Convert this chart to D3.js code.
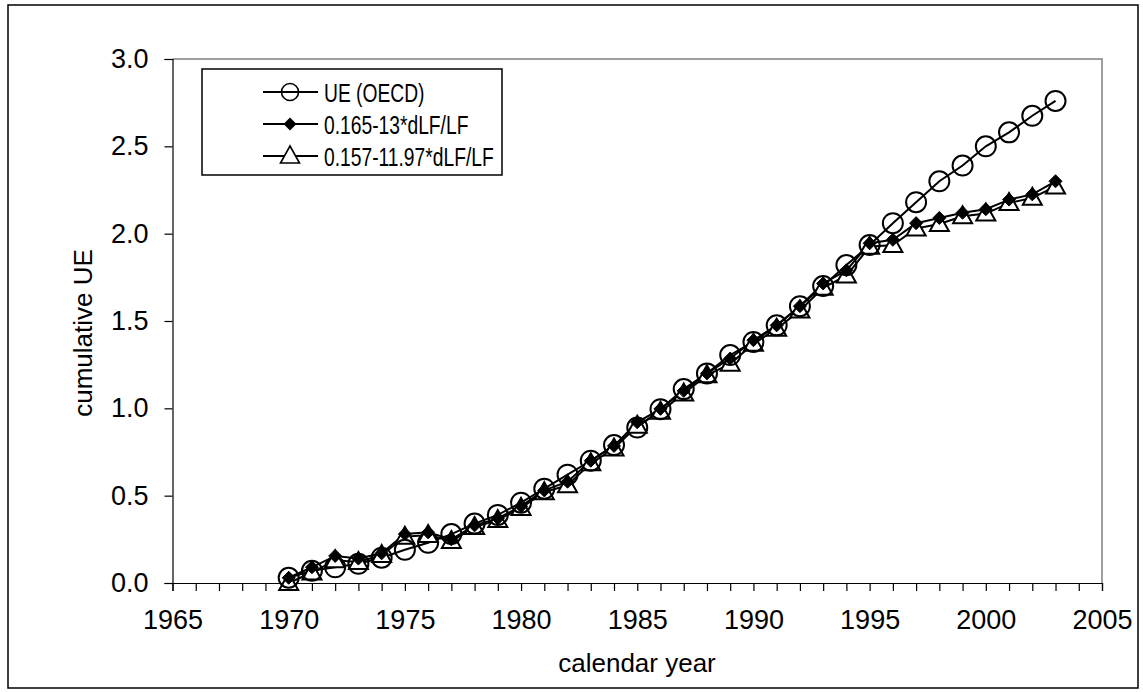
<!DOCTYPE html>
<html>
<head>
<meta charset="utf-8">
<script src="https://cdn.jsdelivr.net/npm/d3@7"></script>
<style>
  html, body { margin: 0; padding: 0; background: #fff; }
  svg text { font-family: "Liberation Sans", Arial, sans-serif; fill: #000; }
</style>
</head>
<body>
<svg id="chart" width="1143" height="692"></svg>
<script>
const years = d3.range(1970, 2004);
const ueOECD = [0.03, 0.07, 0.09, 0.11, 0.145, 0.19, 0.23, 0.28, 0.34, 0.39,
  0.46, 0.54, 0.62, 0.70, 0.79, 0.89, 0.995, 1.11, 1.20, 1.305,
  1.38, 1.475, 1.585, 1.70, 1.82, 1.935, 2.06, 2.18, 2.30, 2.39,
  2.50, 2.58, 2.675, 2.76];
const model13 = [0.03, 0.09, 0.155, 0.14, 0.17, 0.28, 0.29, 0.25, 0.33, 0.37,
  0.44, 0.53, 0.58, 0.70, 0.785, 0.92, 0.997, 1.10, 1.20, 1.285,
  1.39, 1.475, 1.585, 1.715, 1.79, 1.945, 1.965, 2.06, 2.09, 2.12,
  2.14, 2.195, 2.225, 2.30];
const model1197 = [0.0, 0.06, 0.13, 0.12, 0.16, 0.265, 0.275, 0.24, 0.32, 0.36,
  0.43, 0.52, 0.56, 0.685, 0.77, 0.90, 0.98, 1.085, 1.19, 1.255,
  1.37, 1.455, 1.56, 1.69, 1.76, 1.925, 1.935, 2.03, 2.055, 2.10,
  2.115, 2.175, 2.205, 2.27];
const seriesNames = ["UE (OECD)", "0.165-13*dLF/LF", "0.157-11.97*dLF/LF"];
const xTickLabels = [1965, 1970, 1975, 1980, 1985, 1990, 1995, 2000, 2005];
const yTickLabels = [0, 0.5, 1.0, 1.5, 2.0, 2.5, 3.0];

const FS = 27;
const svg = d3.select("#chart");
const pLeft = 172.5, pRight = 1102, pTop = 59, pBottom = 583;
const x = d3.scaleLinear().domain([1965, 2005]).range([pLeft, pRight]);
const y = d3.scaleLinear().domain([0, 3]).range([pBottom, pTop]);

// outer border
svg.append("rect").attr("x", 8).attr("y", 5).attr("width", 1130).attr("height", 683)
  .attr("fill", "#fff").attr("stroke", "#000").attr("stroke-width", 1.5);

// plot area border (gray top/right)
svg.append("path")
  .attr("d", `M${pLeft},${pTop}H${pRight}V${pBottom}`)
  .attr("fill", "none").attr("stroke", "#808080").attr("stroke-width", 1.5);

// y axis
const yAxis = d3.axisLeft(y).tickValues(yTickLabels).tickFormat(d3.format(".1f"))
  .tickSize(8).tickPadding(16);
const gy = svg.append("g").attr("transform", `translate(${pLeft},0)`).call(yAxis);
gy.select(".domain").attr("stroke", "#000").attr("stroke-width", 1.2);
gy.selectAll(".tick line").attr("stroke", "#000").attr("stroke-width", 1.2);
gy.selectAll("text").attr("font-size", FS).attr("fill", "#000")
  .style("font-family", "Liberation Sans, Arial, sans-serif");

// x axis: ticks every year, labels every 5
const xAxis = d3.axisBottom(x).tickValues(d3.range(1965, 2006))
  .tickFormat(d => xTickLabels.includes(d) ? String(d) : "")
  .tickSize(8).tickPadding(19);
const gx = svg.append("g").attr("transform", `translate(0,${pBottom})`).call(xAxis);
gx.select(".domain").attr("stroke", "#000").attr("stroke-width", 1.2);
gx.selectAll(".tick line").attr("stroke", "#000").attr("stroke-width", 1.2);
gx.selectAll("text").attr("font-size", FS).attr("fill", "#000")
  .style("font-family", "Liberation Sans, Arial, sans-serif");

// axis titles
svg.append("text").attr("x", 637).attr("y", 672).attr("text-anchor", "middle")
  .attr("font-size", 26).text("calendar year");
svg.append("text").attr("transform", "translate(92,333) rotate(-90)")
  .attr("text-anchor", "middle").attr("font-size", 26).text("cumulative UE");

// lines
const series = [ueOECD, model13, model1197];
const line = d3.line().x((d, i) => x(years[i])).y(d => y(d));
series.forEach(s => {
  svg.append("path").datum(s).attr("d", line)
    .attr("fill", "none").attr("stroke", "#000").attr("stroke-width", 2);
});

// marker shapes
const triPath = (cx, cy) => `M${cx},${cy - 10}L${cx + 9.5},${cy + 7}L${cx - 9.5},${cy + 7}Z`;
const diaPath = (cx, cy) => `M${cx},${cy - 6.5}L${cx + 6.5},${cy}L${cx},${cy + 6.5}L${cx - 6.5},${cy}Z`;

svg.append("g").selectAll("path").data(model1197).join("path")
  .attr("d", (d, i) => triPath(x(years[i]), y(d)))
  .attr("fill", "#fff").attr("stroke", "#000").attr("stroke-width", 2);
svg.append("g").selectAll("circle").data(ueOECD).join("circle")
  .attr("cx", (d, i) => x(years[i])).attr("cy", d => y(d)).attr("r", 10)
  .attr("fill", "none").attr("stroke", "#000").attr("stroke-width", 2);
svg.append("g").selectAll("path").data(model13).join("path")
  .attr("d", (d, i) => diaPath(x(years[i]), y(d)))
  .attr("fill", "#000").attr("stroke", "#000").attr("stroke-width", 1);

// legend
const lg = svg.append("g");
lg.append("rect").attr("x", 202).attr("y", 69).attr("width", 300).attr("height", 106)
  .attr("fill", "#fff").attr("stroke", "#000").attr("stroke-width", 1.5);
const rows = [92, 124, 156];
seriesNames.forEach((name, i) => {
  const ry = rows[i];
  lg.append("line").attr("x1", 263).attr("x2", 318).attr("y1", ry).attr("y2", ry)
    .attr("stroke", "#000").attr("stroke-width", 2);
  if (i === 0) {
    lg.append("circle").attr("cx", 290).attr("cy", ry).attr("r", 8.5)
      .attr("fill", "none").attr("stroke", "#000").attr("stroke-width", 1.6);
  } else if (i === 1) {
    lg.append("path").attr("d", diaPath(290, ry)).attr("fill", "#000");
  } else {
    lg.append("path").attr("d", triPath(290, ry)).attr("fill", "#fff")
      .attr("stroke", "#000").attr("stroke-width", 1.6);
  }
  const t = lg.append("text").attr("x", 324).attr("y", ry + 9.5).attr("font-size", 26).text(name);
  const w = t.node().getComputedTextLength();
  t.attr("textLength", w * 0.74).attr("lengthAdjust", "spacingAndGlyphs");
});
</script>
</body>
</html>
